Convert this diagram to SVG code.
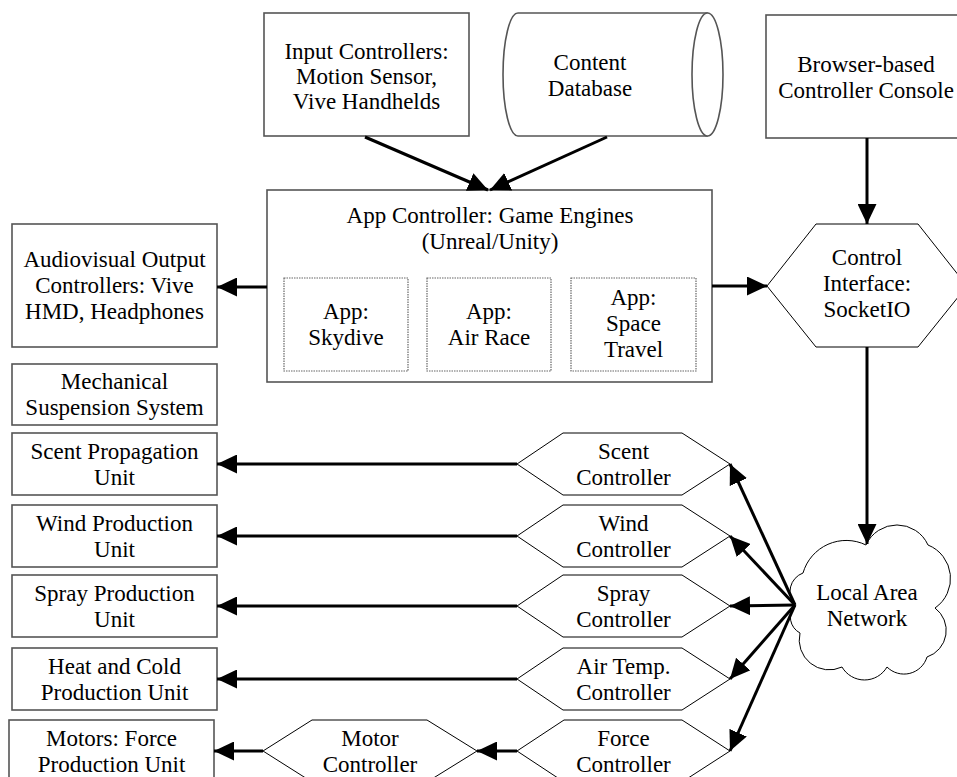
<svg xmlns="http://www.w3.org/2000/svg" width="957" height="777" viewBox="0 0 957 777">
<defs>
<marker id="ah" markerUnits="userSpaceOnUse" markerWidth="20" markerHeight="19" refX="20" refY="9.5" orient="auto">
<path d="M0,0 L20,9.5 L0,19 z" fill="#000"/>
</marker>
<style>
.box{fill:#fff;stroke:#555;stroke-width:1.6}
.hex{fill:#fff;stroke:#000;stroke-width:1}
.inner{fill:#fff;stroke:#666;stroke-width:1.2;stroke-dasharray:1.5 1}
text{font-family:"Liberation Serif","Times New Roman",serif;font-size:23px;fill:#000;text-anchor:middle}
.conn line{stroke:#000;stroke-width:3;marker-end:url(#ah)}
</style>
</defs>
<rect width="957" height="777" fill="#fff"/>

<g id="input-controllers">
<rect class="box" x="264" y="13" width="205" height="123"/>
<text x="366.5" y="59">Input Controllers:</text>
<text x="366.5" y="84">Motion Sensor,</text>
<text x="366.5" y="109">Vive Handhelds</text>
</g>

<g id="content-database">
<path class="box" d="M518,13 L707,13 L707,136 L518,136 A15,61.5 0 0 1 518,13 z"/>
<ellipse class="box" cx="707.5" cy="74.5" rx="15.5" ry="61.5"/>
<text x="590" y="70">Content</text>
<text x="590" y="96">Database</text>
</g>

<g id="browser-console">
<rect class="box" x="766" y="15" width="200" height="123"/>
<text x="866" y="72">Browser-based</text>
<text x="866" y="98">Controller Console</text>
</g>

<g id="app-controller">
<rect class="box" x="267" y="190" width="445" height="192"/>
<text x="490" y="223">App Controller: Game Engines</text>
<text x="490" y="249">(Unreal/Unity)</text>
<g id="app-skydive">
<rect class="inner" x="284" y="278" width="124" height="93"/>
<text x="346" y="319">App:</text>
<text x="346" y="345">Skydive</text>
</g>
<g id="app-air-race">
<rect class="inner" x="427" y="278" width="124" height="93"/>
<text x="489" y="319">App:</text>
<text x="489" y="345">Air Race</text>
</g>
<g id="app-space-travel">
<rect class="inner" x="571" y="278" width="125" height="93"/>
<text x="633.5" y="305">App:</text>
<text x="633.5" y="331">Space</text>
<text x="633.5" y="357">Travel</text>
</g>
</g>

<g id="control-interface">
<polygon class="hex" points="767,286 816,224 918,224 967,286 918,347 816,347"/>
<text x="867" y="265">Control</text>
<text x="867" y="291">Interface:</text>
<text x="867" y="317">SocketIO</text>
</g>

<g id="audiovisual">
<rect class="box" x="12" y="224" width="205" height="123"/>
<text x="114.5" y="267">Audiovisual Output</text>
<text x="114.5" y="293">Controllers: Vive</text>
<text x="114.5" y="319">HMD, Headphones</text>
</g>

<g id="mechanical">
<rect class="box" x="12" y="364" width="205" height="61"/>
<text x="114.5" y="389">Mechanical</text>
<text x="114.5" y="415">Suspension System</text>
</g>

<g id="scent-unit">
<rect class="box" x="12" y="433" width="205" height="62"/>
<text x="114.5" y="459">Scent Propagation</text>
<text x="114.5" y="485">Unit</text>
</g>
<g id="wind-unit">
<rect class="box" x="12" y="505" width="205" height="62"/>
<text x="114.5" y="531">Wind Production</text>
<text x="114.5" y="557">Unit</text>
</g>
<g id="spray-unit">
<rect class="box" x="12" y="575" width="205" height="62"/>
<text x="114.5" y="601">Spray Production</text>
<text x="114.5" y="627">Unit</text>
</g>
<g id="heat-cold-unit">
<rect class="box" x="12" y="648" width="205" height="62"/>
<text x="114.5" y="674">Heat and Cold</text>
<text x="114.5" y="700">Production Unit</text>
</g>
<g id="motors-unit">
<rect class="box" x="9" y="720" width="205" height="62"/>
<text x="111.5" y="746">Motors: Force</text>
<text x="111.5" y="772">Production Unit</text>
</g>

<g id="scent-controller">
<polygon class="hex" points="517,464 563,433 682,433 730,464 682,495 563,495"/>
<text x="623.5" y="459">Scent</text>
<text x="623.5" y="485">Controller</text>
</g>
<g id="wind-controller">
<polygon class="hex" points="517,536 563,505 682,505 730,536 682,567 563,567"/>
<text x="623.5" y="531">Wind</text>
<text x="623.5" y="557">Controller</text>
</g>
<g id="spray-controller">
<polygon class="hex" points="517,606 563,575 682,575 730,606 682,637 563,637"/>
<text x="623.5" y="601">Spray</text>
<text x="623.5" y="627">Controller</text>
</g>
<g id="airtemp-controller">
<polygon class="hex" points="517,679 563,648 682,648 730,679 682,710 563,710"/>
<text x="623.5" y="674">Air Temp.</text>
<text x="623.5" y="700">Controller</text>
</g>
<g id="force-controller">
<polygon class="hex" points="517,751 564,720 682,720 730,751 682,782 564,782"/>
<text x="623.5" y="746">Force</text>
<text x="623.5" y="772">Controller</text>
</g>
<g id="motor-controller">
<polygon class="hex" points="263,751 312,720 427,720 477,751 427,782 312,782"/>
<text x="370" y="746">Motor</text>
<text x="370" y="772">Controller</text>
</g>

<g id="lan">
<path class="hex" d="M795,605 A20,20 0 0 1 803,573 A45,45 0 0 1 866,545 A34,34 0 0 1 928,545 A36,36 0 0 1 935,608 A28,28 0 0 1 927,657 A24,24 0 0 1 887,667 A26,26 0 0 1 842,667 A30,30 0 0 1 800,633 A18,18 0 0 1 795,605 z"/>
<text x="867" y="600">Local Area</text>
<text x="867" y="626">Network</text>
</g>

<g id="connectors" class="conn">
<line x1="365" y1="137" x2="488" y2="190"/>
<line x1="607" y1="137" x2="490" y2="190"/>
<line x1="867" y1="138" x2="867" y2="224"/>
<line x1="712" y1="286" x2="767" y2="286"/>
<line x1="267" y1="287" x2="217" y2="287"/>
<line x1="867" y1="347" x2="867" y2="544"/>
<line x1="517" y1="464" x2="217" y2="464"/>
<line x1="517" y1="536" x2="217" y2="536"/>
<line x1="517" y1="606" x2="217" y2="606"/>
<line x1="517" y1="679" x2="217" y2="679"/>
<line x1="263" y1="751" x2="214" y2="751"/>
<line x1="517" y1="751" x2="477" y2="751"/>
<line x1="795" y1="605" x2="730" y2="464"/>
<line x1="795" y1="605" x2="730" y2="536"/>
<line x1="795" y1="605" x2="730" y2="606"/>
<line x1="795" y1="605" x2="730" y2="679"/>
<line x1="795" y1="605" x2="730" y2="751"/>
</g>
</svg>
